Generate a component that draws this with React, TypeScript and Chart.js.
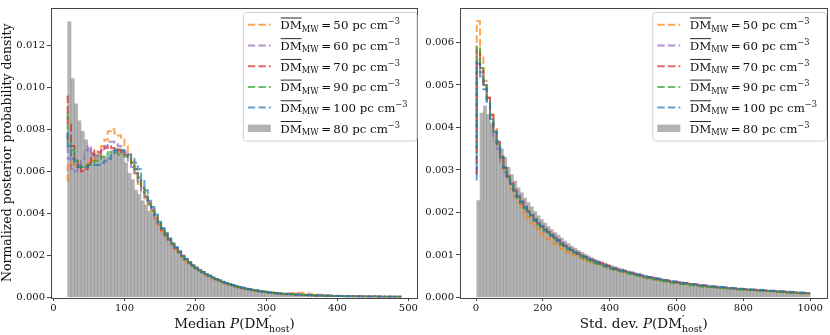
import React, { useEffect, useRef } from "react";
import { Chart, registerables } from "chart.js";

Chart.register(...registerables);

// ---------------- DATA (densities in units of 1e-4) ----------------
const UNIT = 1e-4;

// Left panel: Median P(DM'host), 100 bins starting at 20, width 4.7
const medianBinStart = 20;
const medianBinWidth = 4.7;

const medianDM50 = [
  55, 64, 63, 62, 62, 63, 63, 64, 65, 66, 68, 72, 75, 79, 80, 78, 77, 76, 72, 68, 65, 59, 54, 50, 47,
  44, 41, 37.5, 34.5, 31.5, 29.5, 27, 25, 23, 21, 19, 17.5, 16, 14.8, 13.8, 12.8, 11.8, 10.8, 10, 9.2,
  8.5, 7.8, 7.2, 6.6, 6.1, 5.6, 5.2, 4.8, 4.4, 4.1, 3.8, 3.5, 3.2, 3.0, 2.8, 2.6, 2.4, 2.3, 2.1, 2.0,
  1.9, 1.9, 2.0, 2.1, 2.2, 2.1, 2.2, 2.0, 1.8, 1.6, 1.4, 1.3, 1.2, 1.1, 1.0, 0.9, 0.85, 0.8, 0.75, 0.7,
  0.7, 0.65, 0.6, 0.58, 0.55, 0.5, 0.48, 0.45, 0.42, 0.4, 0.38, 0.35, 0.33, 0.3, 0.28,
];
const medianDM60 = [
  77, 66, 61, 60, 62, 66, 70, 72, 69, 67, 68, 70, 72, 74, 74, 73, 72, 70, 68, 65, 62, 59, 55, 51, 47,
  45, 42, 38, 35, 32.5, 30.5, 27.5, 25, 23.5, 21.5, 19.5, 18.2, 16.5, 15.2, 14, 13, 12, 11.2, 10.3, 9.5,
  8.8, 8.1, 7.4, 6.9, 6.3, 5.8, 5.4, 5.0, 4.6, 4.2, 3.9, 3.6, 3.3, 3.1, 2.8, 2.6, 2.4, 2.2, 2.0, 1.9,
  1.8, 1.7, 1.6, 1.5, 1.4, 1.35, 1.3, 1.2, 1.15, 1.1, 1.0, 0.95, 0.9, 0.85, 0.8, 0.78, 0.75, 0.7, 0.68, 0.65,
  0.62, 0.6, 0.57, 0.55, 0.52, 0.5, 0.47, 0.45, 0.43, 0.41, 0.39, 0.37, 0.35, 0.33, 0.31,
];
const medianDM70 = [
  96, 82, 72, 66, 62, 60, 61, 64, 68, 70, 69, 70, 71, 72, 71, 70, 70, 69, 68, 66, 64, 61, 57, 52, 48,
  45, 41.5, 38.5, 35, 32, 29.5, 27.5, 25.5, 23.3, 21.5, 19.8, 18, 16.3, 15, 14, 13, 12.1, 11, 10.2, 9.3,
  8.7, 8, 7.4, 6.8, 6.3, 5.9, 5.3, 4.9, 4.5, 4.2, 3.9, 3.6, 3.3, 3.0, 2.8, 2.6, 2.4, 2.2, 2.0, 1.8,
  1.7, 1.6, 1.6, 1.5, 1.4, 1.3, 1.25, 1.2, 1.1, 1.05, 1.0, 0.95, 0.9, 0.85, 0.8, 0.76, 0.72, 0.68, 0.65, 0.62,
  0.6, 0.57, 0.55, 0.52, 0.5, 0.48, 0.46, 0.44, 0.42, 0.4, 0.38, 0.36, 0.35, 0.33, 0.3,
];
const medianDM90 = [
  88, 75, 70, 65, 63, 62, 62, 63, 64, 65, 66, 67, 68, 69, 69, 69, 68, 68, 67, 66, 64, 61, 57, 52, 48,
  44.5, 41, 39, 35.5, 33, 30, 28, 25.5, 23.8, 21.8, 19.5, 18, 16.6, 15.2, 13.9, 13, 12, 11.1, 10.2, 9.5,
  8.7, 8.1, 7.4, 6.8, 6.3, 5.8, 5.4, 4.9, 4.5, 4.2, 3.9, 3.6, 3.3, 3.0, 2.8, 2.6, 2.4, 2.2, 2.0, 1.9,
  1.8, 1.7, 1.6, 1.5, 1.4, 1.3, 1.25, 1.2, 1.1, 1.05, 1.0, 0.95, 0.9, 0.85, 0.8, 0.75, 0.7, 0.68, 0.65, 0.62,
  0.6, 0.57, 0.55, 0.52, 0.5, 0.48, 0.46, 0.44, 0.42, 0.4, 0.38, 0.36, 0.35, 0.33, 0.3,
];
const medianDM100 = [
  79, 72, 66, 63, 62, 62, 62, 63, 63, 63, 63, 64, 65, 66, 68, 70, 70, 70, 69, 68, 66, 64, 61, 56, 51,
  46, 43, 39.5, 36, 33, 30.5, 28, 26, 24, 22, 20, 18.3, 16.8, 15.3, 14.2, 13.2, 12.2, 11.2, 10.4, 9.6,
  8.8, 8.2, 7.5, 6.9, 6.4, 5.9, 5.4, 5.0, 4.6, 4.3, 4.0, 3.7, 3.4, 3.1, 2.9, 2.7, 2.5, 2.3, 2.1, 1.95,
  1.85, 1.75, 1.65, 1.55, 1.45, 1.35, 1.3, 1.2, 1.15, 1.1, 1.05, 1.0, 0.95, 0.9, 0.85, 0.8, 0.75, 0.72, 0.68, 0.65,
  0.62, 0.6, 0.57, 0.55, 0.52, 0.5, 0.48, 0.46, 0.44, 0.42, 0.4, 0.38, 0.36, 0.34, 0.32,
];
const medianDM80 = [
  131, 104, 92, 84, 79, 75, 71, 69, 68, 68, 67, 67, 68, 70, 71, 71, 70, 64, 59, 56, 51, 49, 46, 44, 41,
  40, 37.5, 35, 32.5, 30, 28, 25.8, 23.8, 22, 20.3, 18.7, 17.2, 15.8, 14.5, 13.4, 12.4, 11.4, 10.5, 9.7, 9.0,
  8.3, 7.7, 7.1, 6.5, 6.0, 5.5, 5.1, 4.7, 4.3, 4.0, 3.7, 3.4, 3.1, 2.9, 2.7, 2.5, 2.3, 2.1, 1.95, 1.8,
  1.7, 1.6, 1.5, 1.4, 1.3, 1.2, 1.15, 1.1, 1.0, 0.95, 0.9, 0.85, 0.8, 0.77, 0.74, 0.7, 0.67, 0.64, 0.61, 0.58,
  0.55, 0.53, 0.5, 0.48, 0.46, 0.44, 0.42, 0.4, 0.38, 0.36, 0.34, 0.32, 0.3, 0.28, 0.26,
];

// Right panel: Std. dev. P(DM'host), 100 bins starting at 2, width 9.98
const stdBinStart = 2;
const stdBinWidth = 9.98;

const stdDM50 = [
  40, 65, 57, 51, 47, 43, 40, 36, 33, 30,
  27.5, 25.5, 23.8, 22.3, 21, 19.8, 18.8, 17.6, 16.8, 16.0, 15.2, 14.4, 13.8, 13.2, 12.6, 12.0, 11.4, 10.9, 10.5, 10.1,
  9.8, 9.5, 9.2, 8.9, 8.6, 8.3, 8.0, 7.8, 7.5, 7.3, 7.0, 6.8, 6.5, 6.3, 6.1, 5.9, 5.7, 5.5, 5.3, 5.1,
  4.9, 4.7, 4.55, 4.4, 4.25, 4.1, 3.95, 3.8, 3.7, 3.6, 3.5, 3.4, 3.3, 3.2, 3.1, 3.0, 2.9, 2.8, 2.7, 2.6,
  2.5, 2.45, 2.4, 2.3, 2.25, 2.2, 2.15, 2.1, 2.0, 1.95, 1.9, 1.85, 1.8, 1.75, 1.7, 1.65, 1.6, 1.55, 1.5, 1.45,
  1.4, 1.35, 1.3, 1.25, 1.2, 1.15, 1.1, 1.05, 1.0, 0.95,
];
const stdDM60 = [
  29, 56, 53, 50, 46, 42, 38, 35, 32, 29.5,
  28, 26.5, 25, 23.6, 22.4, 21.2, 20.2, 19.2, 18.3, 17.4, 16.7, 16.0, 15.3, 14.6, 14.0, 13.4, 12.8, 12.2, 11.6, 11.1,
  10.7, 10.2, 9.8, 9.4, 9.1, 8.8, 8.4, 8.1, 7.8, 7.5, 7.2, 6.9, 6.7, 6.5, 6.3, 6.1, 5.9, 5.7, 5.5, 5.3,
  5.1, 4.9, 4.75, 4.6, 4.45, 4.3, 4.15, 4.0, 3.85, 3.7, 3.6, 3.5, 3.4, 3.3, 3.2, 3.1, 3.0, 2.9, 2.8, 2.7,
  2.6, 2.55, 2.5, 2.4, 2.35, 2.3, 2.2, 2.15, 2.1, 2.0, 1.95, 1.9, 1.85, 1.8, 1.75, 1.7, 1.65, 1.6, 1.55, 1.5,
  1.45, 1.4, 1.35, 1.3, 1.25, 1.2, 1.15, 1.1, 1.05, 1.0,
];
const stdDM70 = [
  29, 58, 54, 50, 47, 43, 39.5, 36.5, 33.5, 30.5,
  28.5, 26.8, 25.2, 23.8, 22.6, 21.4, 20.4, 19.4, 18.4, 17.6, 16.8, 16.1, 15.4, 14.8, 14.2, 13.5, 12.8, 12.2, 11.7, 11.2,
  10.8, 10.4, 10.0, 9.6, 9.2, 8.9, 8.6, 8.3, 8.0, 7.7, 7.4, 7.1, 6.8, 6.6, 6.4, 6.2, 6.0, 5.8, 5.6, 5.4,
  5.2, 5.0, 4.85, 4.7, 4.55, 4.4, 4.25, 4.1, 3.95, 3.8, 3.7, 3.6, 3.5, 3.4, 3.3, 3.2, 3.1, 3.0, 2.9, 2.8,
  2.7, 2.6, 2.55, 2.45, 2.4, 2.35, 2.25, 2.2, 2.15, 2.05, 2.0, 1.95, 1.9, 1.85, 1.8, 1.75, 1.7, 1.65, 1.6, 1.55,
  1.5, 1.45, 1.4, 1.35, 1.3, 1.25, 1.2, 1.15, 1.1, 1.05,
];
const stdDM90 = [
  35, 59, 54, 50, 46, 42, 39, 36, 33, 30.5,
  28.2, 26.5, 24.8, 23.4, 22.1, 21.0, 20.0, 19.0, 18.0, 17.2, 16.4, 15.7, 15.0, 14.4, 13.8, 13.1, 12.4, 11.8, 11.3, 10.8,
  10.4, 10.0, 9.6, 9.2, 8.8, 8.5, 8.2, 7.9, 7.6, 7.3, 7.0, 6.7, 6.5, 6.3, 6.1, 5.9, 5.7, 5.5, 5.3, 5.1,
  4.9, 4.7, 4.55, 4.4, 4.25, 4.1, 3.95, 3.8, 3.65, 3.5, 3.4, 3.3, 3.2, 3.1, 3.0, 2.9, 2.8, 2.7, 2.6, 2.5,
  2.45, 2.4, 2.35, 2.3, 2.25, 2.2, 2.15, 2.1, 2.0, 1.95, 1.9, 1.85, 1.8, 1.75, 1.7, 1.65, 1.6, 1.55, 1.5, 1.45,
  1.4, 1.35, 1.3, 1.25, 1.2, 1.15, 1.1, 1.05, 1.0, 0.95,
];
const stdDM100 = [
  27.5, 55, 52, 49, 46, 42, 39, 36, 33, 30.5,
  28.4, 26.7, 25.1, 23.7, 22.5, 21.3, 20.3, 19.3, 18.3, 17.5, 16.7, 16.0, 15.3, 14.7, 14.1, 13.4, 12.7, 12.1, 11.6, 11.1,
  10.7, 10.3, 9.9, 9.5, 9.1, 8.8, 8.5, 8.2, 7.9, 7.6, 7.3, 7.0, 6.8, 6.6, 6.4, 6.2, 6.0, 5.8, 5.6, 5.4,
  5.2, 5.0, 4.85, 4.7, 4.55, 4.4, 4.25, 4.1, 4.0, 3.85, 3.75, 3.6, 3.5, 3.4, 3.3, 3.2, 3.1, 3.0, 2.9, 2.8,
  2.7, 2.65, 2.6, 2.5, 2.45, 2.4, 2.3, 2.25, 2.2, 2.1, 2.05, 2.0, 1.95, 1.9, 1.85, 1.8, 1.75, 1.7, 1.65, 1.6,
  1.55, 1.5, 1.45, 1.4, 1.35, 1.3, 1.25, 1.2, 1.15, 1.1,
];
const stdDM80 = [
  22.8, 43.4, 45.1, 43, 41, 38.5, 37, 35, 33, 30.6,
  28.9, 27.4, 25.8, 24.6, 23.4, 22.3, 21.3, 20.2, 19.2, 18.3, 17.5, 16.7, 16.0, 15.3, 14.7, 14.0, 13.3, 12.7, 12.1, 11.6,
  11.1, 10.6, 10.2, 9.8, 9.4, 9.0, 8.7, 8.4, 8.1, 7.8, 7.5, 7.2, 6.9, 6.7, 6.5, 6.2, 6.0, 5.8, 5.6, 5.4,
  5.2, 5.0, 4.85, 4.7, 4.5, 4.35, 4.2, 4.05, 3.9, 3.75, 3.6, 3.5, 3.4, 3.3, 3.2, 3.1, 3.0, 2.9, 2.8, 2.7,
  2.6, 2.5, 2.45, 2.4, 2.3, 2.25, 2.2, 2.1, 2.05, 2.0, 1.95, 1.9, 1.85, 1.8, 1.7, 1.65, 1.6, 1.55, 1.5, 1.45,
  1.4, 1.35, 1.3, 1.25, 1.2, 1.15, 1.1, 1.05, 1.0, 0.95,
];

const lineLabels = ["50", "60", "70", "90", "100"];
const grayLabelValue = "80";
const lineColors = [
  "rgba(255,127,14,0.7)",
  "rgba(148,103,189,0.7)",
  "rgba(214,39,40,0.7)",
  "rgba(44,160,44,0.7)",
  "rgba(31,119,180,0.7)",
];
const grayColor = "rgba(128,128,128,0.6)";

const medianXTicks = [0, 100, 200, 300, 400, 500];
const medianYTicks = [0, 0.002, 0.004, 0.006, 0.008, 0.01, 0.012];
const stdXTicks = [0, 200, 400, 600, 800, 1000];
const stdYTicks = [0, 0.001, 0.002, 0.003, 0.004, 0.005, 0.006];

const yAxisTitle = "Normalized posterior probability density";

// ---------------- Rendering helpers ----------------
const FAMILY = '"DejaVu Serif", "Liberation Serif", serif';
const AXIS_COLOR = "#444";
const TEXT_COLOR = "#111";
const DASH = [7.4, 3.2];

type Seg = { t: string; size: number; italic?: boolean; dy?: number; over?: boolean; noAdvance?: boolean };

function fontOf(s: Seg) {
  return `${s.italic ? "italic " : ""}${s.size}px ${FAMILY}`;
}
function segsWidth(ctx: CanvasRenderingContext2D, segs: Seg[]) {
  let w = 0;
  for (const s of segs) {
    ctx.font = fontOf(s);
    if (!s.noAdvance) w += ctx.measureText(s.t).width;
  }
  return w;
}
function drawSegs(ctx: CanvasRenderingContext2D, segs: Seg[], x: number, y: number) {
  let cx = x;
  ctx.textAlign = "left";
  ctx.textBaseline = "alphabetic";
  for (const s of segs) {
    ctx.font = fontOf(s);
    const w = ctx.measureText(s.t).width;
    ctx.fillText(s.t, cx, y + (s.dy || 0));
    if (s.over) ctx.fillRect(cx + 0.3, y - s.size * 0.98, w - 0.6, 0.9);
    if (!s.noAdvance) cx += w;
  }
}

const LF = 11.8; // legend font size
function legendSegs(v: string): Seg[] {
  return [
    { t: "DM", size: LF, over: true },
    { t: "MW", size: LF * 0.7, dy: LF * 0.22 },
    { t: "\u2009=\u2009" + v + " pc cm", size: LF },
    { t: "\u22123", size: LF * 0.7, dy: -LF * 0.42 },
  ];
}

const TF = 13.5; // x-axis title font size
const YTF = 12.5; // y-axis title font size
function xTitleSegs(prefix: string): Seg[] {
  return [
    { t: prefix, size: TF },
    { t: "P", size: TF, italic: true },
    { t: "(DM", size: TF },
    { t: "\u2032", size: TF * 0.8, dy: -TF * 0.36, noAdvance: true },
    { t: "host", size: TF * 0.7, dy: TF * 0.28 },
    { t: ")", size: TF },
  ];
}

type Panel = {
  lines: number[][];
  gray: number[];
  binStart: number;
  binWidth: number;
  xMin: number;
  xMax: number;
  yMax: number;
  xTicks: number[];
  yTicks: number[];
  yAxisWidth: number;
  padRight: number;
  xTitlePrefix: string;
  showYTitle: boolean;
};

const medianPanel: Panel = {
  lines: [medianDM50, medianDM60, medianDM70, medianDM90, medianDM100],
  gray: medianDM80,
  binStart: medianBinStart,
  binWidth: medianBinWidth,
  xMin: -3.5,
  xMax: 513.5,
  yMax: 0.01376,
  xTicks: medianXTicks,
  yTicks: medianYTicks,
  yAxisWidth: 51,
  padRight: 2,
  xTitlePrefix: "Median ",
  showYTitle: true,
};

const stdPanel: Panel = {
  lines: [stdDM50, stdDM60, stdDM70, stdDM90, stdDM100],
  gray: stdDM80,
  binStart: stdBinStart,
  binWidth: stdBinWidth,
  xMin: -48,
  xMax: 1052,
  yMax: 0.00681,
  xTicks: stdXTicks,
  yTicks: stdYTicks,
  yAxisWidth: 40,
  padRight: 2.5,
  xTitlePrefix: "Std. dev. ",
  showYTitle: false,
};

function buildConfig(p: Panel): any {
  const stepPoints = (vals: number[]) => {
    const pts = vals.map((v, i) => ({ x: p.binStart + i * p.binWidth, y: v * UNIT }));
    pts.push({ x: p.binStart + vals.length * p.binWidth, y: vals[vals.length - 1] * UNIT });
    return pts;
  };
  const lineSets = p.lines.map((vals, k) => ({
    type: "line",
    label: lineLabels[k],
    data: stepPoints(vals),
    borderColor: lineColors[k],
    backgroundColor: lineColors[k],
    borderWidth: 2,
    borderDash: DASH,
    stepped: "after",
    pointRadius: 0,
    fill: false,
    order: 5 - k,
  }));
  const graySet = {
    type: "bar",
    label: grayLabelValue,
    data: p.gray.map((v, i) => ({ x: p.binStart + (i + 0.5) * p.binWidth, y: v * UNIT })),
    backgroundColor: grayColor,
    borderWidth: 0,
    barPercentage: 1,
    categoryPercentage: 1,
    grouped: false,
    order: 10,
  };

  const decorPlugin = {
    id: "decor",
    afterDatasetsDraw(chart: any) {
      const ctx: CanvasRenderingContext2D = chart.ctx;
      const a = chart.chartArea;
      ctx.save();
      ctx.strokeStyle = AXIS_COLOR;
      ctx.lineWidth = 1;
      ctx.strokeRect(Math.round(a.left) + 0.5, Math.round(a.top) + 0.5, Math.round(a.right - a.left) - 1, Math.round(a.bottom - a.top));
      ctx.restore();
    },
    afterDraw(chart: any) {
      const ctx: CanvasRenderingContext2D = chart.ctx;
      const a = chart.chartArea;
      ctx.save();
      ctx.fillStyle = TEXT_COLOR;
      // x-axis title
      const xs = xTitleSegs(p.xTitlePrefix);
      const xw = segsWidth(ctx, xs);
      drawSegs(ctx, xs, (a.left + a.right) / 2 - xw / 2, 328);
      // y-axis title
      if (p.showYTitle) {
        ctx.save();
        ctx.translate(8, (a.top + a.bottom) / 2);
        ctx.rotate(-Math.PI / 2);
        ctx.font = `${YTF}px ${FAMILY}`;
        ctx.textAlign = "center";
        ctx.textBaseline = "middle";
        ctx.fillText(yAxisTitle, 0, 0);
        ctx.restore();
      }
      // legend
      const labels = [...lineLabels, grayLabelValue];
      const segsList = labels.map((v) => legendSegs(v));
      let maxW = 0;
      for (const s of segsList) maxW = Math.max(maxW, segsWidth(ctx, s));
      const boxW = 37.5 + maxW + 9;
      const boxH = 128.5;
      const boxR = a.right - 1.5;
      const boxL = boxR - boxW;
      const boxT = a.top + 4;
      ctx.beginPath();
      (ctx as any).roundRect(boxL + 0.5, boxT + 0.5, boxW, boxH, 3);
      ctx.fillStyle = "rgba(255,255,255,0.8)";
      ctx.fill();
      ctx.strokeStyle = "#d0d0d0";
      ctx.lineWidth = 1;
      ctx.stroke();
      labels.forEach((v, i) => {
        const cy = boxT + 12.8 + i * 20.7;
        if (i < lineLabels.length) {
          ctx.save();
          ctx.strokeStyle = lineColors[i];
          ctx.lineWidth = 2;
          ctx.setLineDash(DASH);
          ctx.beginPath();
          ctx.moveTo(boxL + 5, cy);
          ctx.lineTo(boxL + 28, cy);
          ctx.stroke();
          ctx.restore();
        } else {
          ctx.fillStyle = grayColor;
          ctx.fillRect(boxL + 5, cy - 3.7, 23, 7.4);
        }
        ctx.fillStyle = TEXT_COLOR;
        drawSegs(ctx, segsList[i], boxL + 37.5, cy + 4.3);
      });
      ctx.restore();
    },
  };

  const tickFont = { family: FAMILY, size: 10 };

  return {
    type: "bar",
    data: { datasets: [...lineSets, graySet] },
    options: {
      animation: false,
      responsive: false,
      events: [],
      layout: { padding: { left: 0, top: 3, right: p.padRight, bottom: 0 } },
      plugins: { legend: { display: false }, tooltip: { enabled: false }, title: { display: false } },
      scales: {
        x: {
          type: "linear",
          min: p.xMin,
          max: p.xMax,
          offset: false,
          border: { display: false },
          grid: {
            offset: false,
            drawOnChartArea: false,
            drawTicks: true,
            tickLength: 3.5,
            color: AXIS_COLOR,
            lineWidth: 1,
          },
          ticks: {
            font: tickFont,
            color: TEXT_COLOR,
            padding: 1,
            maxRotation: 0,
            autoSkip: false,
            callback: (v: number) => String(v),
          },
          afterBuildTicks: (s: any) => {
            s.ticks = p.xTicks.map((v) => ({ value: v }));
          },
          afterFit: (s: any) => {
            s.height = 37.5;
          },
        },
        y: {
          type: "linear",
          min: 0,
          max: p.yMax,
          border: { display: false },
          grid: { offset: false, drawOnChartArea: false, drawTicks: true, tickLength: 4, color: AXIS_COLOR, lineWidth: 1 },
          ticks: {
            font: tickFont,
            color: TEXT_COLOR,
            padding: 2,
            autoSkip: false,
            callback: (v: number) => Number(v).toFixed(3),
          },
          afterBuildTicks: (s: any) => {
            s.ticks = p.yTicks.map((v) => ({ value: v }));
          },
          afterFit: (s: any) => {
            s.width = p.yAxisWidth;
          },
        },
      },
    },
    plugins: [decorPlugin],
  };
}

export default function App() {
  const leftRef = useRef<HTMLCanvasElement>(null);
  const rightRef = useRef<HTMLCanvasElement>(null);

  useEffect(() => {
    const c1 = new Chart(leftRef.current as HTMLCanvasElement, buildConfig(medianPanel));
    const c2 = new Chart(rightRef.current as HTMLCanvasElement, buildConfig(stdPanel));
    return () => {
      c1.destroy();
      c2.destroy();
    };
  }, []);

  return (
    <div style={{ position: "fixed", left: 0, top: 0, width: 830, height: 335, background: "#fff" }}>
      <canvas
        ref={leftRef}
        width={420}
        height={335}
        style={{ position: "absolute", left: 0, top: 0, width: 420, height: 335 }}
      />
      <canvas
        ref={rightRef}
        width={410}
        height={335}
        style={{ position: "absolute", left: 420, top: 0, width: 410, height: 335 }}
      />
    </div>
  );
}
